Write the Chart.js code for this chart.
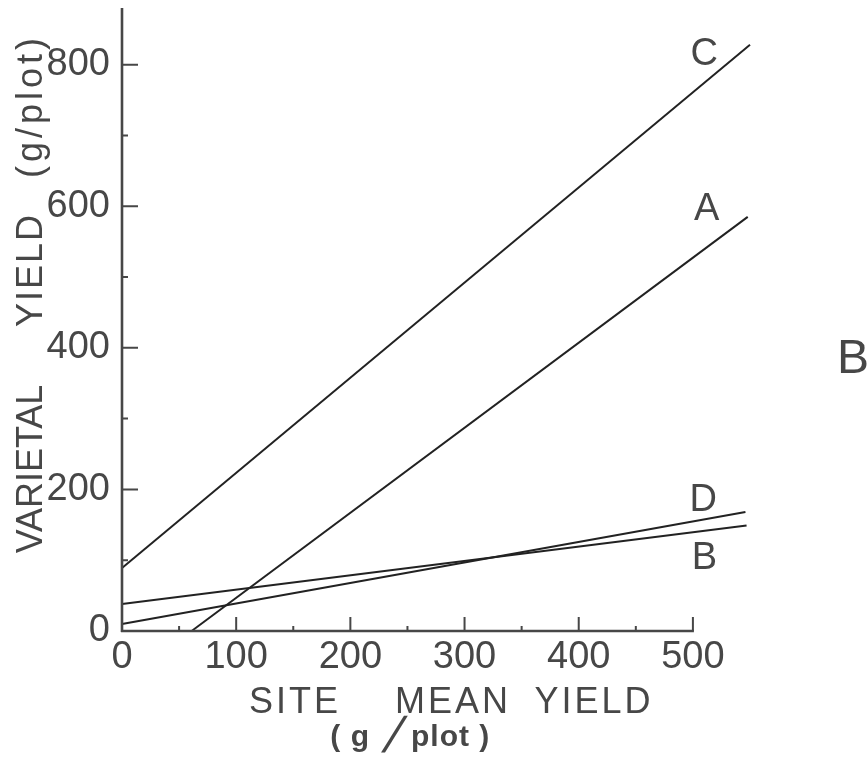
<!DOCTYPE html>
<html>
<head>
<meta charset="utf-8">
<script src="https://cdn.jsdelivr.net/npm/chart.js@4.4.1/dist/chart.umd.min.js"></script>
<style>
  html, body { margin: 0; padding: 0; background: #ffffff; }
  #wrap { width: 868px; height: 757px; position: relative; }
</style>
</head>
<body>
<div id="wrap"><canvas id="c" width="868" height="757"></canvas></div>
<script>
// ---- data ----
const seriesNames = ['C', 'A', 'D', 'B'];
const lineC_x = [0, 550];
const lineC_y = [89, 828];
const lineA_x = [61, 548];
const lineA_y = [0, 585];
const lineD_x = [0, 546];
const lineD_y = [10, 168];
const lineB_x = [0, 547];
const lineB_y = [38, 149];

const xTickLabels = [0, 100, 200, 300, 400, 500];
const xMinorTicks = [50, 150, 250, 350, 450];
const yTickLabels = [0, 200, 400, 600, 800];
const yMinorTicks = [100, 300, 500, 700];

// line end labels (data coordinates of label centres)
const labelText = ['C', 'A', 'D', 'B'];
const labelX = [510, 512, 509, 510];
const labelY = [818, 599, 189, 106];

const xTitleWords = ['SITE', 'MEAN', 'YIELD'];
const yTitleWords = ['VARIETAL', 'YIELD', '(g/plot)'];
const panelLabel = 'B';

const INK = '#474747';
const LINE = '#222222';

function pts(xs, ys) { return xs.map((x, i) => ({ x: x, y: ys[i] })); }

const datasets = [
  { label: 'C', data: pts(lineC_x, lineC_y) },
  { label: 'A', data: pts(lineA_x, lineA_y) },
  { label: 'D', data: pts(lineD_x, lineD_y) },
  { label: 'B', data: pts(lineB_x, lineB_y) }
].map(d => Object.assign(d, {
  borderColor: LINE, borderWidth: 2, pointRadius: 0, tension: 0, fill: false, clip: false
}));

const decorations = {
  id: 'decorations',
  afterDraw(chart) {
    const ctx = chart.ctx;
    const xs = chart.scales.x, ys = chart.scales.y;
    const x0 = xs.getPixelForValue(0), y0 = ys.getPixelForValue(0);
    ctx.save();
    ctx.strokeStyle = INK;
    ctx.lineCap = 'butt';
    // axis lines
    ctx.lineWidth = 2.6;
    ctx.beginPath();
    ctx.moveTo(x0, y0 + 1);
    ctx.lineTo(x0, ys.top);
    ctx.moveTo(x0 - 1, y0);
    ctx.lineTo(xs.getPixelForValue(500) + 1, y0);
    ctx.stroke();
    // inward ticks
    ctx.lineWidth = 2;
    ctx.beginPath();
    yTickLabels.forEach(v => { if (v === 0) return; const p = ys.getPixelForValue(v); ctx.moveTo(x0, p); ctx.lineTo(x0 + 16, p); });
    yMinorTicks.forEach(v => { const p = ys.getPixelForValue(v); ctx.moveTo(x0, p); ctx.lineTo(x0 + 6, p); });
    xTickLabels.forEach(v => { if (v === 0) return; const p = xs.getPixelForValue(v); ctx.moveTo(p, y0); ctx.lineTo(p, y0 - 14); });
    xMinorTicks.forEach(v => { const p = xs.getPixelForValue(v); ctx.moveTo(p, y0); ctx.lineTo(p, y0 - 5); });
    ctx.stroke();

    ctx.fillStyle = INK;
    // line labels
    ctx.font = '38px "Liberation Sans Narrow", "Liberation Sans", sans-serif';
    ctx.textAlign = 'center';
    ctx.textBaseline = 'alphabetic';
    labelText.forEach((t, i) => {
      ctx.fillText(t, xs.getPixelForValue(labelX[i]), ys.getPixelForValue(labelY[i]) + 13.5);
    });

    // x title
    ctx.font = '36px "Liberation Sans", sans-serif';
    ctx.letterSpacing = '3px';
    const xCenters = [295, 453, 594];
    xTitleWords.forEach((w, i) => ctx.fillText(w, xCenters[i], 713));

    // x sub-title ( g / plot )
    ctx.letterSpacing = '1px';
    ctx.font = 'bold 30px "Liberation Sans", sans-serif';
    ctx.textAlign = 'right';
    ctx.fillText('( g', 370, 746);
    ctx.textAlign = 'left';
    ctx.fillText('plot )', 411, 746);
    ctx.letterSpacing = '0px';
    ctx.save();
    ctx.translate(393, 738);
    ctx.transform(1, 0, -0.35, 1, 0, 0);
    ctx.font = '50px "Liberation Sans", sans-serif';
    ctx.textAlign = 'center';
    ctx.textBaseline = 'middle';
    ctx.fillText('/', 0, 0);
    ctx.restore();

    // y title (rotated)
    ctx.save();
    ctx.translate(42, 0);
    ctx.rotate(-Math.PI / 2);
    ctx.font = '36px "Liberation Sans", sans-serif';
    ctx.textAlign = 'center';
    ctx.textBaseline = 'alphabetic';
    const ySpacing = ['0px', '2px', '4px'];
    const yCenters = [469, 270, 106];
    yTitleWords.forEach((w, i) => { ctx.letterSpacing = ySpacing[i]; ctx.fillText(w, -yCenters[i], 0); });
    ctx.restore();

    // panel label
    ctx.letterSpacing = '0px';
    ctx.font = '48px "Liberation Sans Narrow", "Liberation Sans", sans-serif';
    ctx.textAlign = 'left';
    ctx.fillText(panelLabel, 837, 373);
    ctx.restore();
  }
};

function noPad(s) { s.paddingTop = 0; s.paddingBottom = 0; s.paddingLeft = 0; s.paddingRight = 0; }

new Chart(document.getElementById('c'), {
  type: 'line',
  data: { datasets: datasets },
  options: {
    responsive: false,
    animation: false,
    events: [],
    layout: { padding: { top: 8, right: 118, left: 0, bottom: 0 } },
    plugins: { legend: { display: false }, tooltip: { enabled: false }, title: { display: false } },
    scales: {
      x: {
        type: 'linear', min: 0, max: 550,
        grid: { display: false, drawTicks: false },
        border: { display: false },
        afterBuildTicks: s => { s.ticks = xTickLabels.map(v => ({ value: v })); },
        afterFit: s => { s.height = 126; noPad(s); },
        ticks: {
          padding: 4, color: INK, maxRotation: 0, autoSkip: false,
          font: { family: '"Liberation Sans Narrow", "Liberation Sans", sans-serif', size: 38 }
        }
      },
      y: {
        type: 'linear', min: 0, max: 880,
        grid: { display: false, drawTicks: false },
        border: { display: false },
        afterBuildTicks: s => { s.ticks = yTickLabels.map(v => ({ value: v })); },
        afterFit: s => { s.width = 122; noPad(s); },
        ticks: {
          padding: 12, color: INK, autoSkip: false,
          font: { family: '"Liberation Sans Narrow", "Liberation Sans", sans-serif', size: 38 }
        }
      }
    }
  },
  plugins: [decorations]
});
</script>
</body>
</html>
